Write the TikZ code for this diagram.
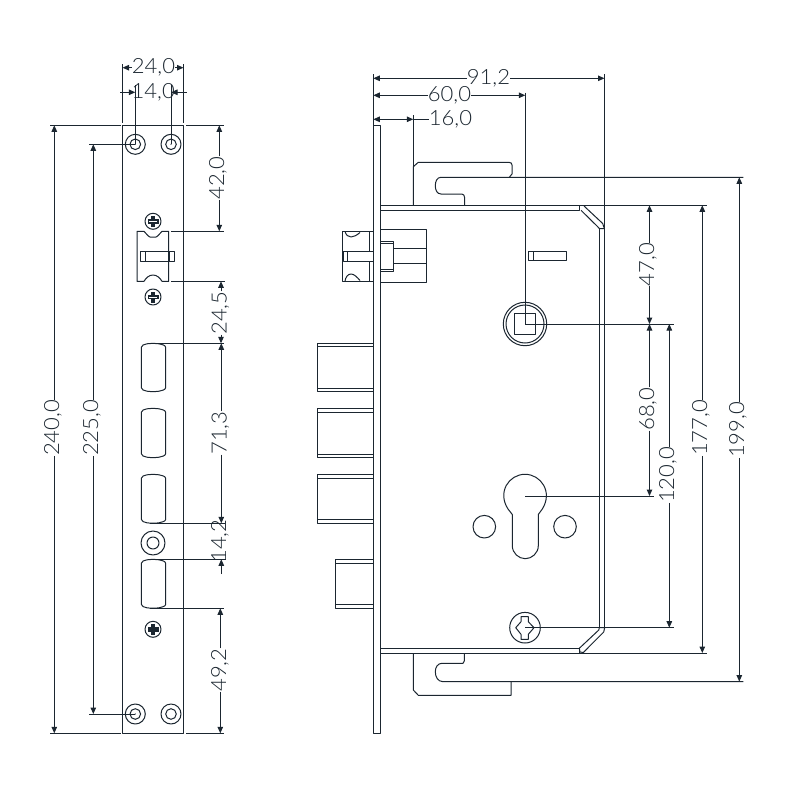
\documentclass[tikz,border=0pt]{standalone}
\usepackage{fontspec}
\setmainfont{Lato}[UprightFont=* Light,FakeStretch=1.05]
\usetikzlibrary{arrows.meta}
\definecolor{ink}{HTML}{1B2630}
\tikzset{
  part/.style={draw=ink,line width=1pt,line join=round},
  extline/.style={draw=ink,line width=1pt},
  dimarrow/.style={draw=ink,line width=1pt,-{Triangle[length=6.5pt,width=5.5pt]}},
  dimboth/.style={draw=ink,line width=1pt,{Triangle[length=6.5pt,width=5.5pt]}-{Triangle[length=6.5pt,width=5.5pt]}},
  dimlabel/.style={inner sep=0pt,outer sep=0pt,text=ink,font=\fontsize{21}{21}\selectfont},
}
\newcommand{\vdimn}[7]{%
  \coordinate (#1a) at (#2,#3);
  \coordinate (#1b) at (#2,#4);
  \node[dimlabel,rotate=90] (#1t) at (#6,#5) {#7};
  \draw[dimarrow] (#1t.east -| #1a) -- (#1a);
  \draw[dimarrow] (#1t.west -| #1b) -- (#1b);
}
\newcommand{\slotshape}[2]{%
  \draw[part] (141.3,#1+4) .. controls (141.5,#1+2) and (144,#1+1) .. (147,#1+0.5)
    .. controls (150,#1) and (156,#1) .. (159,#1+0.5)
    .. controls (162,#1+1) and (165.5,#1+2) .. (165.7,#1+4)
    -- (165.7,#2-4) .. controls (165.5,#2-2) and (162,#2-1) .. (159,#2-0.5)
    .. controls (156,#2) and (150,#2) .. (147,#2-0.5)
    .. controls (144,#2-1) and (141.5,#2-2) .. (141.3,#2-4) -- cycle;
}
\newcommand{\screwhead}[3]{%
  \draw[part] (#1,#2) circle (8pt);
  \fill[ink] (#1-2.2,#2-5.5) rectangle (#1+2.2,#2+5.5);
  \fill[ink] (#1-5.5,#2-2.2) rectangle (#1+5.5,#2+2.2);
  #3
}
\newcommand{\holepair}[2]{%
  \draw[part] (#1,#2) circle (10pt) (#1,#2) circle (5.3pt);
}
\newcommand{\boltshape}[6]{%
  \draw[part] (#1,#2) rectangle (373.3,#3);
  \draw[part] (#1,#4) -- (373.3,#4) (#1,#5) -- (373.3,#5);
}
\begin{document}
\begin{tikzpicture}[x=1pt,y=-1pt]
\useasboundingbox[fill=white] (0,0) rectangle (800,800);

% ---------- left plate ----------
\draw[part] (122.5,125.3) rectangle (183.5,733.3);
\holepair{135.3}{144.3}
\holepair{171}{144.3}
\holepair{135.3}{714}
\holepair{171}{714}
\fill[ink] (135.3,144.3) circle (0.6pt) (171,144.3) circle (0.6pt) (135.3,714) circle (0.6pt);

\screwhead{153}{221.3}{\draw[white,line width=1pt] (149,221.3) -- (157,221.3);}
\screwhead{153}{297}{\draw[white,line width=1pt] (149,297) -- (157,297);}
\screwhead{153}{629.3}{}

% latch on plate
\draw[part] (137,231.3) -- (144,231.3) .. controls (146,233) and (148,236.5) .. (150,237)
  -- (156,237) .. controls (158,236.5) and (160,233) .. (162,231.3) -- (168.7,231.3)
  -- (168.7,281.3) -- (162,281.3) .. controls (160,278) and (157,275) .. (153,275)
  .. controls (149,275) and (146,278) .. (144,281.3) -- (137,281.3) -- cycle;
\draw[part] (140.3,251.3) rectangle (174.7,261.3);
\draw[part] (145.7,251.3) -- (145.7,261.3) (169,251.3) -- (169,261.3);

% slots
\slotshape{343.3}{391.7}
\slotshape{408.3}{457.7}
\slotshape{474.3}{523.3}
\slotshape{559.3}{608.3}
\draw[part] (153,543) circle (12pt) (153,543) circle (6pt);

% ---------- left dimensions ----------
\draw[extline] (122.5,122.7) -- (122.5,64) (183.5,122.7) -- (183.5,64);
\node[dimlabel] (d24) at (153.5,67.7) {24,0};
\draw[dimarrow] (d24.west) -- (122.5,67.7);
\draw[dimarrow] (d24.east) -- (183.5,67.7);

\draw[extline] (135.3,85) -- (135.3,144.3) (171,85) -- (171,144.3);
\node[dimlabel] (d14) at (153.2,92.3) {14,0};
\draw[dimarrow] (120,92.3) -- (135.3,92.3);
\draw[dimarrow] (186.7,92.3) -- (171,92.3);

\draw[extline] (50,125.3) -- (121,125.3) (186,125.3) -- (224,125.3);
\draw[extline] (50,733.3) -- (121,733.3) (186,733.3) -- (224,733.3);
\draw[extline] (89.3,144.3) -- (135.3,144.3) (89.3,714) -- (135.3,714);
\draw[extline] (171.3,231.3) -- (224,231.3) (171.3,281.3) -- (225,281.3);
\draw[extline] (153,343.3) -- (224,343.3) (150,523.3) -- (225,523.3);
\draw[extline] (155,559.3) -- (226,559.3) (150,608.3) -- (224,608.3);

\vdimn{ba}{54.3}{125.3}{733.3}{428}{53}{240,0}
\vdimn{bb}{93.3}{144.3}{714}{428}{92}{225,0}
\vdimn{bc}{219.3}{125.3}{231.3}{178}{218}{42,0}
\vdimn{bd}{221}{281.3}{343.3}{313}{220.5}{24,5}
\vdimn{be}{221.3}{343.3}{523.3}{433}{220.5}{71,3}
\node[dimlabel,rotate=90] (bft) at (220,541) {14,2};
\draw[dimarrow] (221.3,574) -- (221.3,559.3);
\vdimn{bg}{220.3}{608.3}{733.3}{670}{220}{49,2}

% ---------- right: faceplate ----------
\draw[part] (373.3,125.3) rectangle (380.7,733.3);

% bolts
\boltshape{317.3}{343.7}{391.3}{346.3}{388.3}{}
\boltshape{317.3}{408.7}{457.3}{412}{454}{}
\boltshape{317.3}{474.3}{523.3}{478.3}{519.3}{}
\boltshape{335.3}{559.3}{608.3}{563.3}{604.3}{}

% side latch
\draw[part] (342.3,231.3) rectangle (373.3,281.3);
\draw[part] (369.3,231.3) -- (369.3,281.3);
\draw[part] (345,231.3) .. controls (346,235) and (348,237) .. (351,237)
  .. controls (354,237) and (357,235) .. (360,232.5);
\draw[part] (345,281.3) .. controls (345.5,277) and (348,274) .. (351,274)
  .. controls (354,274) and (357,277) .. (360,280.5);
\draw[part,fill=white] (343,251.3) rectangle (373.3,261.3);
\draw[part] (347.5,251.3) -- (347.5,261.3);
\draw[part] (380.7,229.3) rectangle (426.7,282.5);
\draw[part] (380.7,241.2) -- (393.7,241.2) -- (393.7,271.3) -- (380.7,271.3);
\draw[part] (380.7,243.4) -- (393.7,243.4) (380.7,269.3) -- (393.7,269.3);
\draw[part] (393.7,248.3) -- (426.7,248.3) (393.7,263.3) -- (426.7,263.3);

% small bar
\draw[part] (528.3,251.3) rectangle (566.7,260.7);
\draw[part] (533.3,251.3) -- (533.3,260.7);

% body top
\draw[part] (380.7,205.3) -- (706.7,205.3);
\draw[part] (380.7,210.3) -- (579.3,210.3) -- (579.3,205.3);
\draw[part] (584,206) -- (602.7,223.5) -- (604.3,228.5) -- (599.3,228.5) -- (597.5,226.5) -- (581,210.3);
\draw[part] (599.3,228.5) -- (599.3,627.7);
\draw[part] (604.5,74) -- (604.5,627.7);
% body bottom
\draw[part] (599.3,627.7) -- (604.7,627.7) -- (603.7,632) -- (583.3,652.5) -- (580,652) -- (579.3,648.3) -- (598.8,630) -- (599.3,627.7);
\draw[part] (380.7,648.3) -- (579.3,648.3) -- (579.3,653);
\draw[part] (380.7,653) -- (706.7,653);

% top hook
\draw[part] (413.3,205.3) -- (413.3,166.7) -- (418.3,162.3) -- (509,162.3)
  .. controls (511,162.3) and (512,163.5) .. (512,165) -- (512,174) -- (509.3,177.3);
\draw[part] (743.3,177.3) -- (441,177.3) .. controls (437,177.3) and (435.3,181.5) .. (435.3,185.7)
  .. controls (435.3,190) and (437,194) .. (441,194) -- (461.7,194)
  .. controls (463.5,194) and (464.7,195.5) .. (464.7,198) -- (464.7,205.3);
% bottom hook
\draw[part] (413.3,653) -- (413.3,690) -- (418.3,695.3) -- (511,695.3) -- (511,681.6);
\draw[part] (743.3,681.6) -- (442.7,681.6) .. controls (438,681.6) and (435.3,677) .. (435.3,671.7)
  .. controls (435.3,667) and (438,663.3) .. (442,663.3) -- (463,663.3)
  -- (464.3,661) -- (464.3,653);

% square spindle
\draw[part] (525,324) circle (21.7pt) (525,324) circle (19pt);
\draw[part] (514.3,313.3) rectangle (535.7,334.3);

% keyhole
\draw[part] (512.3,514.5) -- (508,509) .. controls (497,492) and (509,474.3) .. (525,474.3)
  .. controls (541,474.3) and (553,492) .. (542.3,509) -- (538.3,514.5)
  -- (538.3,545.7) .. controls (538.3,553) and (532,558.7) .. (525.3,558.7)
  .. controls (518.5,558.7) and (512.3,553) .. (512.3,545.7) -- cycle;
\draw[part] (484.3,526.7) circle (11.3pt) (565,526.7) circle (11.3pt);

% bottom screw
\draw[part] (525,627.7) circle (15.3pt);
\draw[part] (521,616.7) -- (528.3,616.7) -- (528.3,621.7) -- (534,627.7) -- (528.3,634.3) -- (528.3,639.3)
  -- (521,639.3) -- (521,634.3) -- (515.7,627.7) -- (521,621.7) -- cycle;

% ---------- right dimensions ----------
\draw[extline] (373.3,74) -- (373.3,125.3);
\node[dimlabel] (c91) at (488.5,78.3) {91,2};
\draw[dimarrow] (c91.west) -- (373.3,78.3);
\draw[dimarrow] (c91.east) -- (604.5,78.3);

\draw[extline] (525.3,92.7) -- (525.3,324);
\node[dimlabel] (c60) at (449.5,95.3) {60,0};
\draw[dimarrow] (c60.west) -- (373.3,95.3);
\draw[dimarrow] (c60.east) -- (525.3,95.3);

\draw[extline] (413.3,115) -- (413.3,205.3);
\node[dimlabel] (c16) at (450.5,119.3) {16,0};
\draw[dimboth] (373.3,119.3) -- (413.3,119.3);
\draw[extline] (413.3,119.3) -- (c16.west);

\draw[extline] (525,324) -- (674,324);
\draw[extline] (525,496) -- (654,496);
\draw[extline] (525,627.7) -- (674,627.7);

\vdimn{ca}{649.5}{205.3}{324}{264.5}{648}{47,0}
\vdimn{cb}{649.5}{324}{496}{409}{648}{68,0}
\vdimn{cc}{669.3}{324}{627.7}{475}{668}{120,0}
\vdimn{cd}{702.3}{205.3}{653}{428}{701}{177,0}
\vdimn{ce}{739.3}{177.3}{681.6}{430}{738}{199,0}
\end{tikzpicture}
\end{document}
